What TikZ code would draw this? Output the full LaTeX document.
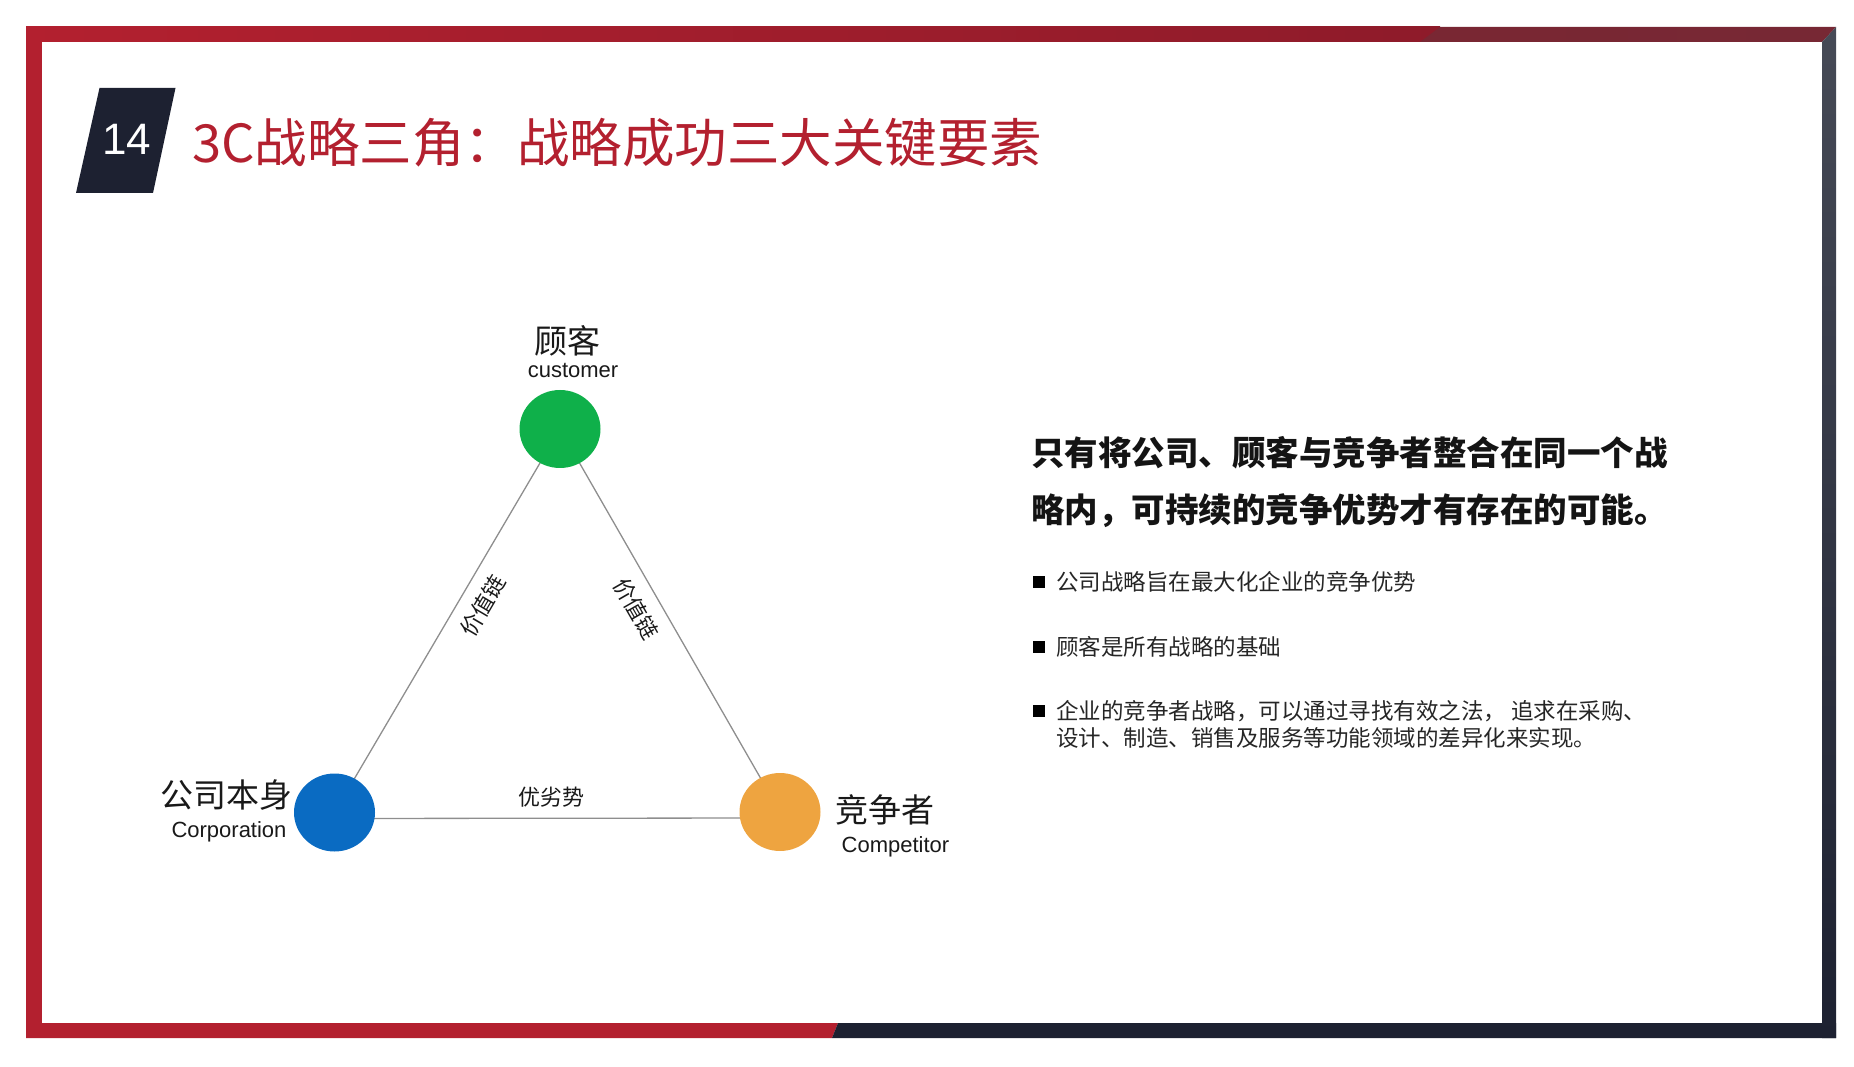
\documentclass[tikz,border=0pt]{standalone}
\usepackage{fontspec}
\usetikzlibrary{positioning,backgrounds,calc,shapes.geometric}
\newfontfamily\cjk{Noto Sans CJK SC}
\newfontfamily\arialfont{Liberation Sans}
\definecolor{frameRed}{HTML}{B3202F}
\definecolor{frameCrimson}{HTML}{8E1B2A}
\definecolor{frameMaroon}{HTML}{772834}
\definecolor{frameDark}{HTML}{1D2131}
\definecolor{frameSlate}{HTML}{464A56}
\definecolor{custColor}{HTML}{0FB04A}
\definecolor{corpColor}{HTML}{0A6BC2}
\definecolor{compColor}{HTML}{EEA440}
\definecolor{linkGray}{HTML}{8E8E8E}
\definecolor{textGray}{HTML}{262626}
\newcommand{\fs}[1]{\fontsize{#1}{#1}\selectfont}
\tikzset{
	spot/.style={ellipse, minimum width=81pt, minimum height=78pt, inner sep=0, outer sep=0},
	link/.style={draw=linkGray, line width=1.3pt},
	cname/.style={font={\cjk\fs{33}}, text=black!90, inner sep=0},
	ename/.style={font={\arialfont\fs{22}}, text=black!90, inner sep=0},
	lbl/.style={font={\cjk\fs{22}}, text=black!90, inner sep=#1},
	lbl/.default=0pt,
	bullet/.style={fill=black, minimum size=12pt, inner sep=0, outer sep=0},
	item/.style={font={\cjk\fontsize{22.5}{27}\selectfont}, text=textGray, inner sep=0, anchor=west, align=left}
}

\begin{document}
\begin{tikzpicture}[x=1pt,y=1pt]
	\useasboundingbox (0,0) rectangle (1854,1066);
	% frame
	\shade[left color=frameRed, right color=frameCrimson] (26,1024) rectangle (1440,1039);
	\shade[left color=frameMaroon!90!frameCrimson, right color=frameMaroon] (1420,1024) -- (1440,1039) -- (1836,1039) -- (1822,1024) -- cycle;
	\fill[frameRed] (26,28) rectangle (42,1039);
	\fill[frameRed] (26,28) -- (832,28) -- (838,43) -- (26,43) -- cycle;
	\fill[frameDark] (832,28) -- (1836,28) -- (1836,43) -- (838,43) -- cycle;
	\shade[top color=frameSlate, bottom color=frameDark] (1822,28) -- (1822,1024) -- (1836,1039) -- (1836,28) -- cycle;
	
	% heading
	\fill[frameDark] (99.5,978) -- (175.5,978) -- (153,873) -- (76,873) -- cycle;
	\node[font={\arialfont\fs{44}}, text=white, inner sep=0] (num) at (127,927) {14};
	\node[anchor=west, font={\cjk\fs{52.5}}, text=frameRed, inner sep=0] (title) at (192,923) {3C战略三角：战略成功三大关键要素};
	
	% triangle
	\node[spot, fill=custColor] (cust) at (560,637) {};
	\node[spot, fill=corpColor] (corp) at (334.5,253.5) {};
	\node[spot, fill=compColor] (comp) at (780,254) {};
	
	\node[cname] (custCn) at (567.5,725) {顾客};
	\node[ename] (custEn) at (573,695) {customer};
	\node[cname] (corpCn) at (226,271) {公司本身};
	\node[ename] (corpEn) at (229,234) {Corporation};
	\node[cname] (compCn) at (885,256.5) {竞争者};
	\node[ename] (compEn) at (895.5,219) {Competitor};
	
	\begin{scope}[on background layer]
		\draw[link] (corp.center) -- node[lbl=12.5pt, sloped, below, pos=0.57] {价值链} (cust.center);
		\draw[link] (cust.center) -- node[lbl=12.5pt, sloped, below, pos=0.44] {价值链} (comp.center);
		\draw[link] ([yshift=-6pt]corp.center) -- node[lbl=10.5pt, above, pos=0.487] {优劣势} ([yshift=-6pt]comp.center);
	\end{scope}
	
	% text on the right
	\node[anchor=west, align=left, font={\cjk\bfseries\fontsize{33.5}{57}\selectfont}, text=black!92, inner sep=0] (lead) at (1031,584) {只有将公司、顾客与竞争者整合在同一个战\\略内，可持续的竞争优势才有存在的可能。};
	
	\node[bullet] (b1) at (1039,484) {};
	\node[item, right=11pt of b1] (t1) {公司战略旨在最大化企业的竞争优势};
	\node[bullet] (b2) at (1039,419) {};
	\node[item, right=11pt of b2] (t2) {顾客是所有战略的基础};
	\node[bullet] (b3) at (1039,355) {};
	\node[item, right=11pt of b3, yshift=-13.5pt] (t3) {企业的竞争者战略，可以通过寻找有效之法， 追求在采购、\\设计、制造、销售及服务等功能领域的差异化来实现。};
\end{tikzpicture}
\end{document}
